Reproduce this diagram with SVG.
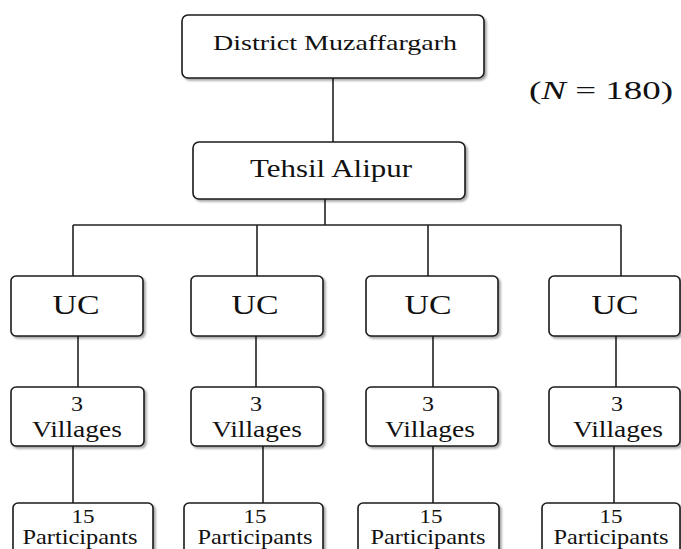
<svg xmlns="http://www.w3.org/2000/svg" width="681" height="549" viewBox="0 0 681 549">
<defs>
<filter id="sh" x="-10%" y="-10%" width="130%" height="140%">
<feDropShadow dx="2" dy="2" stdDeviation="1.2" flood-color="#000" flood-opacity="0.35"/>
</filter>
</defs>
<style>
.box{fill:#fff;stroke:#1a1a1a;stroke-width:1.6;filter:url(#sh)}
.ln{stroke:#222;stroke-width:1.6;fill:none}
text{font-family:'Liberation Serif',serif;fill:#111;text-anchor:middle}
</style>
<rect width="681" height="549" fill="#fff"/>
<g id="connectors">
<path class="ln" d="M333 78V142M325 199V225M73 225H621M73 225V276M257 225V276M428 225V276M621 225V276M78 336V387M256 336V387M433 336V387M616 336V387M73 446V503M263 446V503M433 446V503M614 446V503"/>
</g>
<g id="district"><rect class="box" x="182" y="15" width="302" height="63" rx="6"/><text x="335" y="50" font-size="22" textLength="244" lengthAdjust="spacingAndGlyphs">District Muzaffargarh</text></g>
<g id="tehsil"><rect class="box" x="193" y="142" width="272" height="57" rx="6"/><text x="331" y="177" font-size="26" textLength="162" lengthAdjust="spacingAndGlyphs">Tehsil Alipur</text></g>
<g id="n180"><text x="601" y="99" font-size="25" textLength="144" lengthAdjust="spacingAndGlyphs">(<tspan font-style="italic">N</tspan> = 180)</text></g>
<g id="uc1"><rect class="box" x="11" y="276" width="132" height="60" rx="5"/><text x="76" y="314" font-size="27" textLength="47" lengthAdjust="spacingAndGlyphs">UC</text></g>
<g id="uc2"><rect class="box" x="191" y="276" width="132" height="60" rx="5"/><text x="255" y="314" font-size="27" textLength="47" lengthAdjust="spacingAndGlyphs">UC</text></g>
<g id="uc3"><rect class="box" x="366" y="276" width="132" height="60" rx="5"/><text x="428" y="314" font-size="27" textLength="47" lengthAdjust="spacingAndGlyphs">UC</text></g>
<g id="uc4"><rect class="box" x="549" y="276" width="131" height="60" rx="5"/><text x="615" y="314" font-size="27" textLength="47" lengthAdjust="spacingAndGlyphs">UC</text></g>
<g id="v1"><rect class="box" x="11" y="387" width="133" height="59" rx="5"/><text x="77" y="411" font-size="20" textLength="12" lengthAdjust="spacingAndGlyphs">3</text><text x="77" y="437" font-size="23" textLength="90" lengthAdjust="spacingAndGlyphs">Villages</text></g>
<g id="v2"><rect class="box" x="191" y="387" width="132" height="59" rx="5"/><text x="256" y="411" font-size="20" textLength="12" lengthAdjust="spacingAndGlyphs">3</text><text x="257" y="437" font-size="23" textLength="90" lengthAdjust="spacingAndGlyphs">Villages</text></g>
<g id="v3"><rect class="box" x="366" y="387" width="132" height="59" rx="5"/><text x="428" y="411" font-size="20" textLength="12" lengthAdjust="spacingAndGlyphs">3</text><text x="430" y="437" font-size="23" textLength="90" lengthAdjust="spacingAndGlyphs">Villages</text></g>
<g id="v4"><rect class="box" x="549" y="387" width="131" height="59" rx="5"/><text x="617" y="411" font-size="20" textLength="12" lengthAdjust="spacingAndGlyphs">3</text><text x="618" y="437" font-size="23" textLength="90" lengthAdjust="spacingAndGlyphs">Villages</text></g>
<g id="p1"><rect class="box" x="13" y="503" width="140" height="60" rx="5"/><text x="83" y="523" font-size="19" textLength="23" lengthAdjust="spacingAndGlyphs">15</text><text x="80" y="544" font-size="21" textLength="115" lengthAdjust="spacingAndGlyphs">Participants</text></g>
<g id="p2"><rect class="box" x="184" y="503" width="139" height="60" rx="5"/><text x="255" y="523" font-size="19" textLength="23" lengthAdjust="spacingAndGlyphs">15</text><text x="255" y="544" font-size="21" textLength="115" lengthAdjust="spacingAndGlyphs">Participants</text></g>
<g id="p3"><rect class="box" x="358" y="503" width="141" height="60" rx="5"/><text x="431" y="523" font-size="19" textLength="23" lengthAdjust="spacingAndGlyphs">15</text><text x="428" y="544" font-size="21" textLength="115" lengthAdjust="spacingAndGlyphs">Participants</text></g>
<g id="p4"><rect class="box" x="542" y="503" width="138" height="60" rx="5"/><text x="611" y="523" font-size="19" textLength="23" lengthAdjust="spacingAndGlyphs">15</text><text x="611" y="544" font-size="21" textLength="115" lengthAdjust="spacingAndGlyphs">Participants</text></g>
</svg>
